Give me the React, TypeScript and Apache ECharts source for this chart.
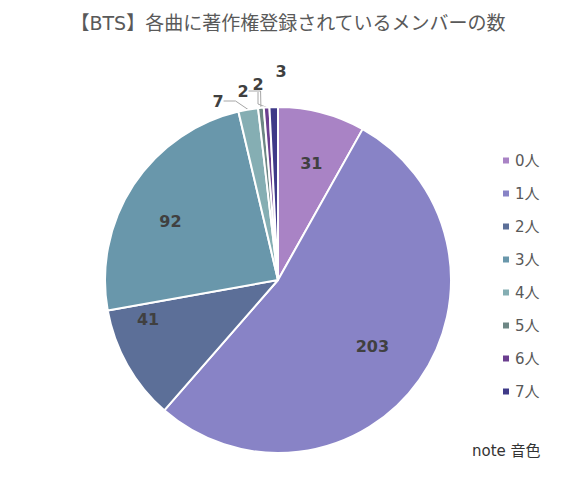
import React, { useEffect, useRef } from "react";
import * as echarts from "echarts";

const categories = ["0人", "1人", "2人", "3人", "4人", "5人", "6人", "7人"];
const values = [31, 203, 41, 92, 7, 2, 2, 3];
const colors = ["#a983c5", "#8883c6", "#5c6f98", "#6997ab", "#85aeb3", "#6e8785", "#6b3e8f", "#3f3a88"];
const insideLabelMin = 20;
// label placement (chart pixel coords) for the small outside labels, index-aligned
const outsideLabelPos: Record<number, [number, number]> = {
  4: [210, 93],
  5: [235, 83],
  6: [250, 76],
  7: [273, 63],
};
// fine offsets for the inside labels
const insideLabelShift: Record<number, [number, number]> = {
  0: [2, 3],
  1: [-7, -5],
  2: [-22, -22],
  3: [-4, 10],
};

export default function App() {
  const ref = useRef<HTMLDivElement>(null);
  useEffect(() => {
    const chart = echarts.init(ref.current!, null, { renderer: "svg" });
    const font = "'DejaVu Sans', 'Noto Sans CJK JP', sans-serif";
    const baseData = categories.map((name, i) => ({
      name,
      value: values[i],
      itemStyle: { color: colors[i] },
      label: { show: values[i] < insideLabelMin },
      labelLine: { show: values[i] < insideLabelMin && i !== 7 },
    }));
    const overlayData = categories.map((name, i) => ({
      name,
      value: values[i],
      label: { show: values[i] >= insideLabelMin },
    }));
    chart.setOption({
      animation: false,
      backgroundColor: "#ffffff",
      title: {
        text: "【BTS】各曲に著作権登録されているメンバーの数",
        left: "center",
        top: 0,
        textStyle: { fontFamily: font, fontSize: 19, fontWeight: "normal", color: "#595959" },
      },
      legend: {
        orient: "vertical",
        left: 493,
        top: 145,
        padding: 0,
        icon: "rect",
        itemWidth: 8,
        itemHeight: 8,
        itemGap: 18,
        textStyle: { fontFamily: font, fontSize: 15, color: "#595959", lineHeight: 15 },
        data: categories.map((name, i) => ({ name, itemStyle: { color: colors[i] } })),
        selectedMode: false,
      },
      series: [
        {
          type: "pie",
          center: [270, 272],
          radius: [0, 173],
          startAngle: 90,
          clockwise: true,
          avoidLabelOverlap: false,
          itemStyle: { borderColor: "#ffffff", borderWidth: 2 },
          label: {
            position: "outside",
            formatter: "{c}",
            fontFamily: font,
            fontSize: 16,
            fontWeight: "bold",
            color: "#404040",
          },
          labelLine: { length: 8, length2: 12, lineStyle: { color: "#a6a6a6", width: 1 } },
          labelLayout: (params: any) => {
            const p = outsideLabelPos[params.dataIndex];
            if (!p) return {};
            return { x: p[0], y: p[1], align: "center", verticalAlign: "middle" };
          },
          data: baseData,
        },
        {
          type: "pie",
          center: [270, 272],
          radius: [0, 242],
          startAngle: 90,
          clockwise: true,
          silent: true,
          legendHoverLink: false,
          itemStyle: { color: "rgba(0,0,0,0)", borderWidth: 0 },
          label: {
            position: "inside",
            formatter: "{c}",
            fontFamily: font,
            fontSize: 16,
            fontWeight: "bold",
            color: "#404040",
          },
          labelLine: { show: false },
          labelLayout: (params: any) => {
            const s = insideLabelShift[params.dataIndex];
            if (!s) return {};
            return { dx: s[0], dy: s[1] };
          },
          data: overlayData,
        },
      ],
      graphic: [
        {
          type: "text",
          left: 464,
          top: 435,
          style: { text: "note 音色", fontFamily: font, fontSize: 15, fill: "#333333" },
        },
      ],
    });
    return () => chart.dispose();
  }, []);
  return <div ref={ref} style={{ width: 560, height: 461 }} />;
}
